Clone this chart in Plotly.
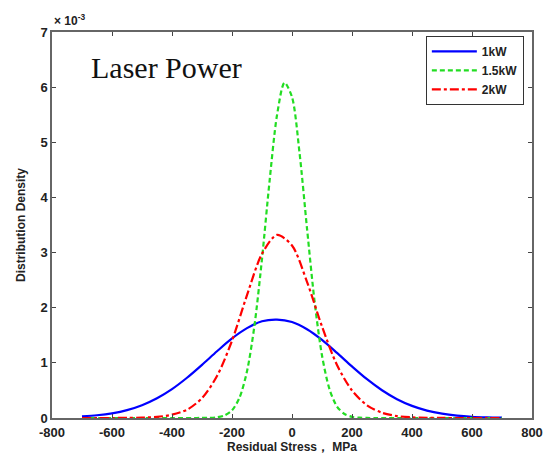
import plotly.graph_objects as go

# Residual stress (MPa) sample positions
x_1kw = [-700, -650, -600, -550, -500, -450, -400, -350, -300, -250, -200, -150, -100, -50,
         0, 50, 100, 150, 200, 250, 300, 350, 400, 450, 500, 550, 600, 650, 700]
# Distribution density in units of 1e-3
y_1kw = [0.030, 0.050, 0.085, 0.143, 0.233, 0.359, 0.524, 0.730, 0.964, 1.210, 1.443, 1.630, 1.755, 1.785,
         1.740, 1.610, 1.416, 1.180, 0.935, 0.703, 0.503, 0.341, 0.220, 0.135, 0.079, 0.044, 0.023, 0.012, 0.006]

x_15kw = [-700, -600, -500, -400, -325, -300, -275, -250, -225, -200, -175, -150, -125, -100, -75, -50, -25,
          0, 25, 50, 75, 100, 125, 150, 175, 200, 225, 250, 275, 300, 400, 500, 600, 700]
y_15kw = [0.0, 0.0, 0.0, 0.0, 0.0, 0.001, 0.003, 0.013, 0.045, 0.138, 0.368, 0.846, 1.681, 2.887, 4.283, 5.491, 6.082,
          5.821, 4.814, 3.440, 2.124, 1.133, 0.522, 0.208, 0.072, 0.021, 0.005, 0.001, 0.0, 0.0, 0.0, 0.0, 0.0, 0.0]

x_2kw = [-700, -650, -600, -550, -500, -450, -400, -350, -300, -250, -200, -150, -100, -50,
         0, 50, 100, 150, 200, 250, 300, 350, 400, 450, 500, 550, 600, 650, 700]
y_2kw = [0.0, 0.0, 0.0, 0.002, 0.006, 0.020, 0.060, 0.150, 0.360, 0.760, 1.400, 2.229, 2.978, 3.320,
         3.129, 2.470, 1.660, 0.960, 0.500, 0.230, 0.095, 0.035, 0.012, 0.004, 0.001, 0.0, 0.0, 0.0, 0.0]

series_names = ["1kW", "1.5kW", "2kW"]
x_ticks = [-800, -600, -400, -200, 0, 200, 400, 600, 800]
y_ticks = [0, 1, 2, 3, 4, 5, 6, 7]

fig = go.Figure()
fig.add_trace(go.Scatter(x=x_1kw, y=y_1kw, name=series_names[0], mode="lines",
                         line=dict(color="#0000ff", width=2.2, shape="spline", smoothing=0.8)))
fig.add_trace(go.Scatter(x=x_15kw, y=y_15kw, name=series_names[1], mode="lines",
                         line=dict(color="#22dd22", width=2.2, dash="5px,3px", shape="spline", smoothing=0.8)))
fig.add_trace(go.Scatter(x=x_2kw, y=y_2kw, name=series_names[2], mode="lines",
                         line=dict(color="#ff0000", width=2.2, dash="dashdot", shape="spline", smoothing=0.8)))

sans = "Liberation Sans, Arial, sans-serif"
tickfont = dict(family=sans, size=13, color="#222222", weight="bold")

fig.update_layout(
    width=555, height=462,
    margin=dict(l=52, r=19, t=32, b=38),
    paper_bgcolor="white", plot_bgcolor="white",
    showlegend=True,
    legend=dict(x=0.983, y=0.99, xanchor="right", yanchor="top",
                bordercolor="#333333", borderwidth=1, bgcolor="white",
                font=dict(family=sans, size=12, color="#222222", weight="bold"),
                itemwidth=45, tracegroupgap=0),
    xaxis=dict(range=[-800, 800], tickvals=x_ticks, ticktext=[str(v) for v in x_ticks],
               ticks="inside", ticklen=4, tickcolor="#444444", ticklabelstandoff=2,
               showline=True, linecolor="#666666", linewidth=1.5, mirror="ticks",
               showgrid=False, zeroline=False, tickfont=tickfont,
               title=dict(text="Residual Stress， MPa", standoff=1,
                          font=dict(family=sans, size=12, color="#222222", weight="bold"))),
    yaxis=dict(range=[0, 7], tickvals=y_ticks, ticktext=[str(v) for v in y_ticks],
               ticks="inside", ticklen=4, tickcolor="#444444",
               showline=True, linecolor="#666666", linewidth=1.5, mirror="ticks",
               showgrid=False, zeroline=False, tickfont=tickfont,
               title=dict(text="Distribution Density", standoff=12,
                          font=dict(family=sans, size=12, color="#222222", weight="bold"))),
    annotations=[
        dict(text="× 10<sup>-3</sup>", xref="paper", yref="paper", x=0, y=1, xanchor="left", yanchor="bottom",
             showarrow=False, yshift=2,
             font=dict(family=sans, size=12, color="#222222", weight="bold")),
        dict(text="Laser Power", xref="paper", yref="paper", x=(89 - 52) / 484, y=(424 - 68) / 392,
             xanchor="left", yanchor="middle", showarrow=False,
             font=dict(family="Liberation Serif, Times New Roman, serif", size=30, color="#111111")),
    ],
)

fig.write_html("out.html", config={"displayModeBar": False},
               post_script="document.body.style.margin='0';document.body.style.padding='0';")
